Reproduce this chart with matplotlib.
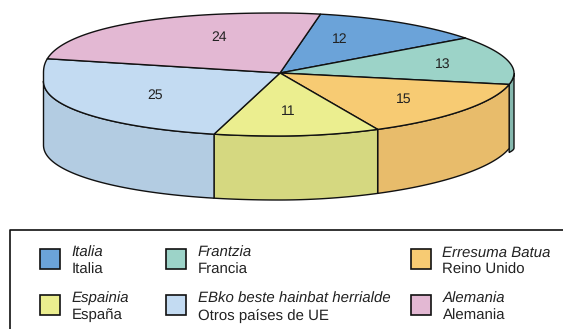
import numpy as np
import matplotlib
matplotlib.use('Agg')
import matplotlib.pyplot as plt

plt.rcParams['font.family'] = ['Liberation Sans', 'DejaVu Sans']
plt.rcParams['text.hinting'] = 'no_hinting'
plt.rcParams['text.hinting_factor'] = 1

# Data
COUNTRIES_ES = ['Italia', 'Francia', 'Reino Unido', 'España', 'Otros países de UE', 'Alemania']
COUNTRIES_EU = ['Italia', 'Frantzia', 'Erresuma Batua', 'Espainia', 'EBko beste hainbat herrialde', 'Alemania']
SHARES = [12, 13, 15, 11, 25, 24]

# Chart styles
TOP_COLOURS = ['#6BA3D9', '#9CD3C8', '#F7CB73', '#EBEE8F', '#C3DBF2', '#E3B8D3']
SIDE_COLOURS = ['#5B8DBD', '#86B8AE', '#E8BC6B', '#D5D880', '#B3CCE2', '#C9A0BA']
LINE = '#111111'
TEXT = '#222222'

CX, CY = 280, 73
DEPTH = 64
START = 80
# the drawn pie is not quite true to its numbers, small corrections in degrees
EDGE_SHIFT = [0, -0.5, -0.5, -1, -2.5, 0, 0]
# number labels sit closer to the middle on the top slices
LABEL_SHIFT = [(-21, 0), (14, 0), (3, 2), (-4, -1), (7, 2), (23, -2)]


def rim(t_deg):
    # squashed outline of the pie, lower left has a short straight drop at the edge
    t = np.radians(t_deg)
    c, s = np.cos(t), np.sin(t)
    left = c < 0
    upper = s > 0
    n = np.where(left, np.where(upper, 2.3, 2.1), 1.9)
    r = (np.abs(c) ** n + np.abs(s) ** n) ** (-1 / n)
    a = np.where(left, 236.5, 234)
    b = np.where(upper, 60, np.where(left, 55, 63))
    y0 = np.where(left & ~upper, CY + 8, CY)
    return CX + a * r * c, y0 - b * r * s


fig = plt.figure(figsize=(5.63, 3.29), dpi=100)
ax = fig.add_axes([0, 0, 1, 1])
ax.set_xlim(0, 563)
ax.set_ylim(329, 0)
ax.axis('off')

edges = START - np.cumsum([0] + SHARES) * 3.6 + np.array(EDGE_SHIFT)

# walls first, the thin teal one behind the others
ts = np.linspace(0, edges[2], 20)
x, y = rim(ts)
extra = np.interp(ts, [edges[2], 0], [68, 75])
ax.fill(np.r_[x, x[::-1]], np.r_[y, (y + extra)[::-1]],
        facecolor=SIDE_COLOURS[1], edgecolor=LINE, linewidth=1.0, zorder=2)

for i in [2, 3, 4]:
    ts = np.linspace(edges[i], max(edges[i + 1], -180), 80)
    x, y = rim(ts)
    ax.fill(np.r_[x, x[::-1]], np.r_[y, y[::-1] + DEPTH],
            facecolor=SIDE_COLOURS[i], edgecolor=LINE, linewidth=1.0, zorder=2)

# top slices
for i, (t0, t1) in enumerate(zip(edges[:-1], edges[1:])):
    ts = np.linspace(t0, t1, 160)
    x, y = rim(ts)
    ax.fill(np.r_[CX, x], np.r_[CY, y], facecolor=TOP_COLOURS[i],
            edgecolor=LINE, linewidth=1.0, joinstyle='round', zorder=3)
    tm = np.radians((t0 + t1) / 2)
    ax.text(CX + 235 * 0.65 * np.cos(tm) + LABEL_SHIFT[i][0],
            CY - 61 * 0.65 * np.sin(tm) + LABEL_SHIFT[i][1], str(SHARES[i]),
            ha='center', va='center', fontsize=9.8, color=TEXT, zorder=4)

# legend frame runs off the picture on the right and bottom
ax.plot([563, 10, 10], [229.5, 229.5, 329], color=LINE, linewidth=1.2, zorder=2)

col_x = [39.5, 165.5, 410.5]
row_y = [249, 295]
for i in range(6):
    sx = col_x[i % 3]
    sy = row_y[i // 3]
    ax.add_patch(plt.Rectangle((sx, sy), 20, 20, facecolor=TOP_COLOURS[i],
                               edgecolor=LINE, linewidth=1.2, zorder=3))
    ax.text(sx + 32, sy + 3.5, COUNTRIES_EU[i], style='italic', ha='left', va='center',
            fontsize=10.55, color=TEXT)
    ax.text(sx + 32, sy + 20.5, COUNTRIES_ES[i], ha='left', va='center',
            fontsize=10.55, color=TEXT)

fig.savefig('out.png', dpi=100)
plt.close(fig)
